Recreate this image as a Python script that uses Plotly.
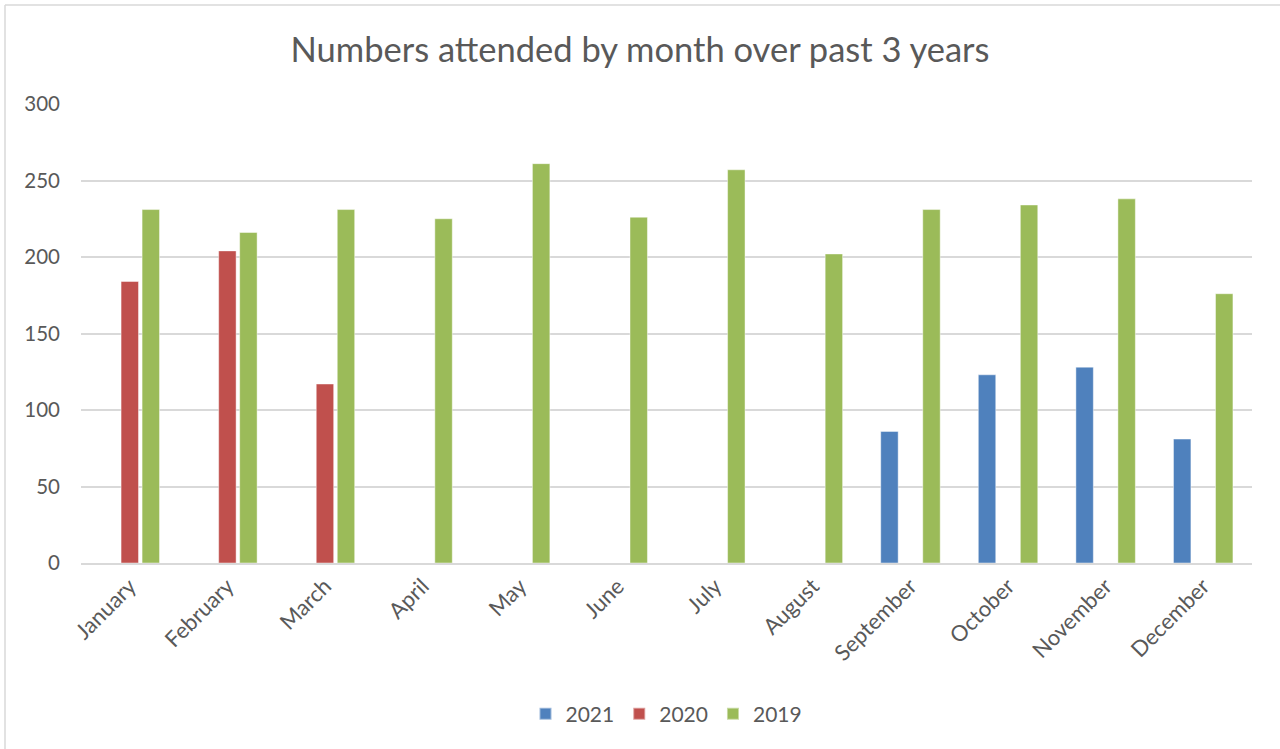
import plotly.graph_objects as go

months = ["January", "February", "March", "April", "May", "June", "July",
          "August", "September", "October", "November", "December"]
vals_2021 = [None, None, None, None, None, None, None, None, 86, 123, 128, 81]
vals_2020 = [184, 204, 117, None, None, None, None, None, None, None, None, None]
vals_2019 = [231, 216, 231, 225, 261, 226, 257, 202, 231, 234, 238, 176]
y_ticks = [0, 50, 100, 150, 200, 250, 300]

W, H = 1280, 749
ML, MR, MT, MB = 81, 28, 104, 186
FONT = "Lato"
TXT = "#595959"

fig = go.Figure()
for name, vals, col in [("2021", vals_2021, "#4F81BD"),
                        ("2020", vals_2020, "#C0504D"),
                        ("2019", vals_2019, "#9BBB59")]:
    fig.add_trace(go.Bar(name=name, x=months, y=vals,
                         marker=dict(color=col, line=dict(color="rgba(255,255,255,0.45)", width=1))))

pw = W - ML - MR
ph = H - MT - MB
def px_x(p):
    return (p - ML) / pw
def px_y(p):
    return (H - MB - p) / ph

fig.update_layout(
    width=W, height=H, autosize=False,
    margin=dict(l=ML, r=MR, t=MT, b=MB),
    paper_bgcolor="white", plot_bgcolor="white",
    barmode="group", bargap=0.354, bargroupgap=0.17,
    title=dict(text="Numbers attended by month over past 3 years",
               x=0.5, xanchor="center", y=1 - 50 / H, yanchor="middle",
               font=dict(family=FONT, size=34.5, color=TXT)),
    font=dict(family=FONT, color=TXT),
    legend=dict(orientation="h", x=0.5, xanchor="center",
                y=px_y(714), yanchor="middle",
                font=dict(family=FONT, size=21, color=TXT),
                traceorder="normal", itemwidth=30, itemsizing="constant",
                tracegroupgap=0),
    xaxis=dict(tickangle=-45, tickfont=dict(family=FONT, size=22, color=TXT),
               showgrid=False, showline=True, linecolor="#D9D9D9", linewidth=1.5,
               ticks="", fixedrange=True),
    yaxis=dict(range=[0, 300], tickvals=y_ticks, ticktext=[str(v) for v in y_ticks],
               tickfont=dict(family=FONT, size=20.5, color=TXT),
               showgrid=True, gridcolor="#D9D9D9", gridwidth=1.5,
               zeroline=False, showline=False, ticks="", ticklabelstandoff=20,
               fixedrange=True),
    shapes=[
        dict(type="line", xref="paper", yref="paper",
             x0=px_x(5), x1=px_x(W + 5), y0=px_y(5), y1=px_y(5),
             line=dict(color="#D9D9D9", width=1.5)),
        dict(type="line", xref="paper", yref="paper",
             x0=px_x(5), x1=px_x(5), y0=px_y(5), y1=px_y(H + 5),
             line=dict(color="#D9D9D9", width=1.5)),
    ],
)

fig.write_html("out.html", config={"displayModeBar": False},
               post_script="document.body.style.margin='0px';")
